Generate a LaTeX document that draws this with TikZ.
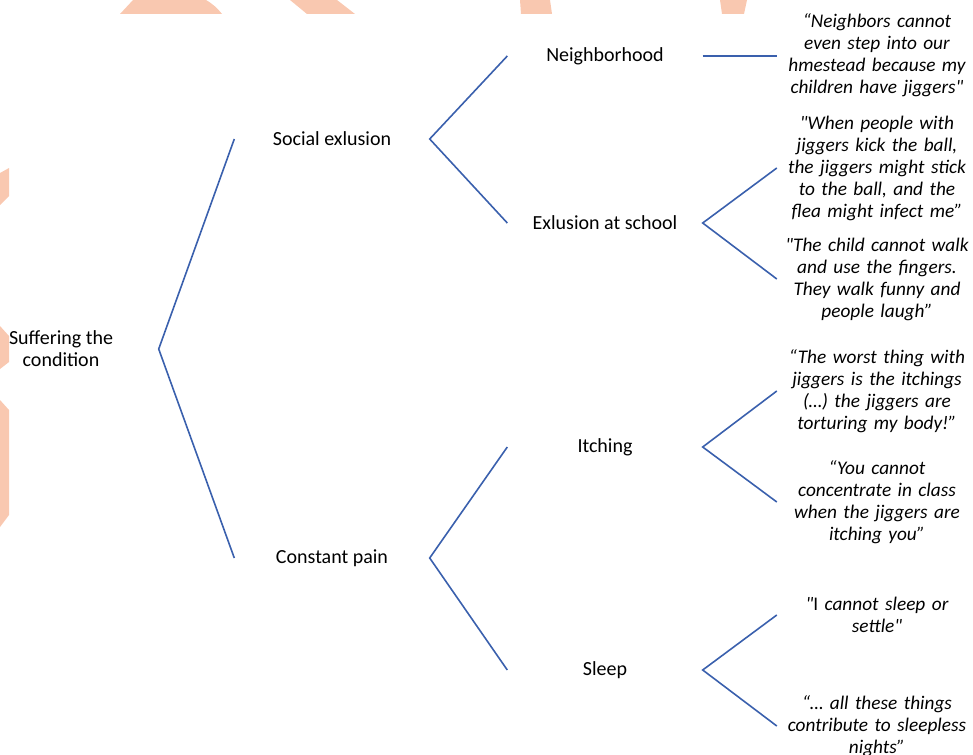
\documentclass[tikz,border=0pt]{standalone}
\usepackage{fontspec}
\setmainfont{Carlito}[Ligatures=TeXOff]
\usetikzlibrary{positioning}

\definecolor{branchblue}{HTML}{3A60AD}
\definecolor{markpeach}{HTML}{F9C8B0}

\tikzset{
  topic/.style={inner sep=0pt, minimum width=195bp, align=center,
    font=\fontsize{20bp}{22bp}\selectfont},
  quote/.style={inner sep=0pt, text width=200bp, align=center,
    font=\fontsize{19.3bp}{22bp}\selectfont\itshape},
  branch/.style={draw=branchblue, line width=1.6bp},
}

\begin{document}
\begin{tikzpicture}[x=1bp,y=-1bp]
\useasboundingbox (0,0) rectangle (973,755);

%Watermark pieces at the borders
\fill[markpeach] (120,14) -- (133,0) -- (206,0) to[bend left=10] (222,14) -- cycle;
\fill[markpeach] (290,0) -- (337,0) -- (355,14) -- (307,14) -- cycle;
\fill[markpeach] (520,0) -- (550,0) -- (552,14) -- (521,14) -- cycle;
\fill[markpeach] (720,0) -- (747,0) -- (744,14) -- (722,14) -- cycle;
\fill[markpeach] (0,173) -- (9,168) -- (9,196) -- (0,205) -- cycle;
\fill[markpeach] (0,326) -- (9,336) -- (9,362) -- (0,369) -- cycle;
\fill[markpeach] (0,400) -- (9,410) -- (9,515) -- (0,527) -- cycle;

%Themes and sub-themes
\node[topic] (suffer) at (61,349) {Suffering the\\condition};
\node[topic] (social) at (332,139) {Social exlusion};
\node[topic] (pain) at (332,558) {Constant pain};
\node[topic] (neigh) at (605,56) {Neighborhood};
\node[topic] (school) at (605,223) {Exlusion at school};
\node[topic] (itch) at (605,447) {Itching};
\node[topic] (sleep) at (605,670) {Sleep};

%Quotes
\node[quote] (qneigh) at (877,55) {“Neighbors cannot\\even step into our\\hmestead because my\\children have jiggers"};
\node[quote] (qball) at (877,168) {"When people with\\jiggers kick the ball,\\the jiggers might stick\\to the ball, and the\\flea might infect me”};
\node[quote] (qwalk) at (877,279) {"The child cannot walk\\and use the fingers.\\They walk funny and\\people laugh”};
\node[quote] (qworst) at (877,391) {“The worst thing with\\jiggers is the itchings\\(…) the jiggers are\\torturing my body!”};
\node[quote] (qclass) at (877,502) {“You cannot\\concentrate in class\\when the jiggers are\\itching you”};
\node[quote] (qsettle) at (877,615) {"{\upshape I} cannot sleep or\\settle"};
\node[quote] (qnights) at (877,726) {“… all these things\\contribute to sleepless\\nights”};

%Branches
\draw[branch] (social.west) -- (suffer.east) -- (pain.west);
\draw[branch] (neigh.west) -- (social.east) -- (school.west);
\draw[branch] (itch.west) -- (pain.east) -- (sleep.west);
\draw[branch] (neigh.east) -- (qneigh.west |- neigh.east);
\draw[branch] (qball.west) -- (school.east) -- (qwalk.west);
\draw[branch] (qworst.west) -- (itch.east) -- (qclass.west);
\draw[branch] (qsettle.west) -- (sleep.east) -- (qnights.west);
\end{tikzpicture}
\end{document}
